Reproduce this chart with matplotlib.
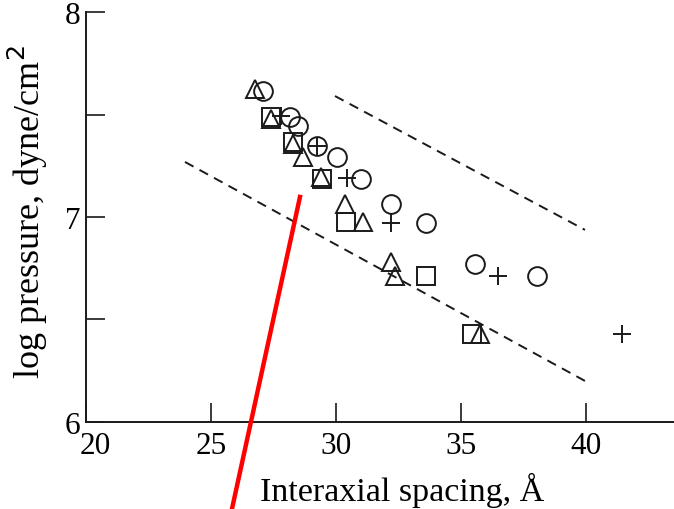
import numpy as np
from matplotlib import pyplot as plt
from matplotlib import transforms

plt.rcParams['font.family'] = ['Liberation Serif', 'DejaVu Serif']

# circles
cx = [27.06, 28.14, 28.46, 29.22, 30.02, 30.98, 32.18, 33.58, 35.54, 38.02]
cy = [7.616, 7.489, 7.445, 7.347, 7.293, 7.186, 7.064, 6.971, 6.771, 6.712]
# triangles
tx = [26.74, 27.38, 28.26, 28.66, 29.38, 30.34, 31.06, 32.18, 32.34, 35.74]
ty = [7.625, 7.479, 7.355, 7.293, 7.195, 7.064, 6.976, 6.781, 6.712, 6.428]
# squares
sx = [27.38, 28.26, 29.42, 30.38, 33.58, 35.42]
sy = [7.489, 7.366, 7.186, 6.976, 6.712, 6.428]
# pluses
px = [27.80, 29.22, 30.42, 32.18, 36.46, 41.42]
py = [7.494, 7.347, 7.190, 6.971, 6.712, 6.428]

# dashed bounds and the red line
upper_x, upper_y = [29.94, 39.94], [7.591, 6.937]
lower_x, lower_y = [23.94, 39.94], [7.269, 6.199]
red_x, red_y = [28.54, 25.82], [7.098, 5.574]

fig = plt.figure(figsize=(6.74, 5.10), dpi=100)
ax = fig.add_axes([0.1283, 0.1712, 0.8717, 0.8027])

ink = '#1a1a1a'
mew = 1.4
ax.plot(cx, cy, 'o', ms=13.5, mfc='none', mec=ink, mew=mew, clip_on=False)
ax.plot(tx, ty, '^', ms=13.5, mfc='none', mec=ink, mew=mew, clip_on=False)
ax.plot(sx, sy, 's', ms=13.5, mfc='none', mec=ink, mew=mew, clip_on=False)
ax.plot(px, py, '+', ms=12.5, mec=ink, mew=mew, clip_on=False)

ax.plot(upper_x, upper_y, color=ink, lw=1.4, ls=(0, (5, 3.5)))
ax.plot(lower_x, lower_y, color=ink, lw=1.4, ls=(0, (5, 3.5)))

ax.plot(red_x, red_y, color='#ff0000', lw=3.2, clip_on=False, zorder=10)

ax.set_xlim(20, 43.5)
ax.set_ylim(6, 8)
ax.spines['top'].set_visible(False)
ax.spines['right'].set_visible(False)
for s in ['left', 'bottom']:
    ax.spines[s].set_linewidth(1.4)
    ax.spines[s].set_color(ink)

ax.set_xticks([20, 25, 30, 35, 40])
ax.set_yticks([6, 7, 8])
ax.set_yticks([6.5, 7.5], minor=True)
ax.tick_params(which='both', direction='in', length=14, width=1.2, color=ink,
               labelsize=22.5)
ax.tick_params(axis='y', pad=4.5)
ax.tick_params(axis='x', pad=7)

# the "20" sits a little right of the corner in the original
lab20 = ax.xaxis.get_major_ticks()[0].label1
lab20.set_transform(lab20.get_transform() + transforms.ScaledTranslation(0.09, 0, fig.dpi_scale_trans))

ax.set_xlabel('Interaxial spacing, Å', fontsize=24.5)
ax.xaxis.set_label_coords(0.538, -0.123)
ax.set_ylabel('log pressure, dyne/cm$^2$', fontsize=26)
ax.yaxis.set_label_coords(-0.062, 0.515)

fig.savefig('out.png', dpi=100)
